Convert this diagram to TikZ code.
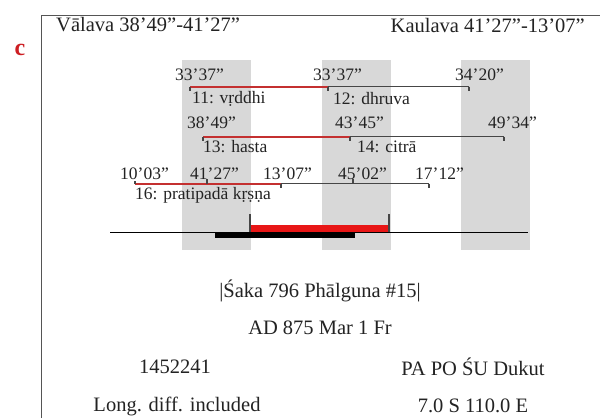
\documentclass[tikz,border=0pt]{standalone}
\usepackage{fontspec}
\setmainfont{Liberation Serif}
\definecolor{txt}{RGB}{35,35,35}
\definecolor{bandgray}{RGB}{216,216,216}
\definecolor{rowred}{RGB}{196,48,48}
\definecolor{rowdark}{RGB}{70,70,70}
\definecolor{barred}{RGB}{232,22,22}
\definecolor{framegray}{RGB}{85,85,85}
\definecolor{clabel}{RGB}{205,30,35}
\begin{document}
\begin{tikzpicture}[x=1pt,y=-1pt,
  lbl/.style={inner sep=0, anchor=west, text=txt, font=\fontsize{17.5}{17.5}\selectfont},
  big/.style={inner sep=0, text=txt, font=\fontsize{20.5}{20.5}\selectfont},
  band/.style={fill=bandgray, draw=none},
  redbar/.style={draw=rowred, line width=2pt},
  darkbar/.style={draw=rowdark, line width=1.5pt},
  tickline/.style={draw=rowdark, line width=1.2pt}]
\useasboundingbox (0,0) rectangle (600,418);
\fill[white] (0,0) rectangle (600,418);
% frame
\draw[framegray, line width=1.5pt] (41.5,418) -- (41.5,15.5) -- (600,15.5);
\node[text=clabel, font=\fontsize{24}{24}\selectfont\bfseries, inner sep=0] (c) at (20,50) {c};
% bands
\fill[band] (182,60) rectangle (251,250);
\fill[band] (322,60) rectangle (391,250);
\fill[band] (461,60) rectangle (530,250);
% top labels
\node[big, anchor=west] (val) at (56,25) {Vālava 38’49”-41’27”};
\node[big, anchor=east] (kau) at (585,25) {Kaulava 41’27”-13’07”};
% row 1
\coordinate (a1) at (190,86.5); \coordinate (a2) at (328,86.5); \coordinate (a3) at (469,86.5);
\draw[darkbar] (a2) -- (a3);
\draw[redbar] (a1) -- (a2);
\draw[tickline] (a1) -- ++(0,4); \draw[tickline] (a2) -- ++(0,4); \draw[tickline] (a3) -- ++(0,4);
\node[lbl] (n1) at (175,75) {33’37”};
\node[lbl] (n2) at (313,75) {33’37”};
\node[lbl] (n3) at (455,75) {34’20”};
\node[lbl] (t11) at (192,99) {11: vṛddhi};
\node[lbl] (t12) at (333,99) {12: dhruva};
% row 2
\coordinate (b1) at (203,136.5); \coordinate (b2) at (350,136.5); \coordinate (b3) at (504,136.5);
\draw[darkbar] (b2) -- (b3);
\draw[redbar] (b1) -- (b2);
\draw[tickline] (b1) -- ++(0,4); \draw[tickline] (b2) -- ++(0,4); \draw[tickline] (b3) -- ++(0,4);
\node[lbl] (m1) at (187,123) {38’49”};
\node[lbl] (m2) at (335,123) {43’45”};
\node[lbl] (m3) at (488,123) {49’34”};
\node[lbl] (t13) at (203,147) {13: hasta};
\node[lbl] (t14) at (357,147) {14: citrā};
% row 3
\coordinate (c1) at (135,183.5); \coordinate (c2) at (207,183.5); \coordinate (c3) at (281,183.5);
\coordinate (c4) at (353,183.5); \coordinate (c5) at (429,183.5);
\draw[darkbar] (c2) -- (c5);
\draw[redbar] (c1) -- (c3);
\draw[tickline] (c1) -- ++(0,-3); \draw[tickline] (c2) -- ++(0,-5);
\draw[tickline] (c3) -- ++(0,4); \draw[tickline] (c4) -- ++(0,-5);
\draw[tickline] (c5) -- ++(0,4);
\node[lbl] (k1) at (120,174) {10’03”};
\node[lbl] (k2) at (190,174) {41’27”};
\node[lbl] (k3) at (263,174) {13’07”};
\node[lbl] (k4) at (338,174) {45’02”};
\node[lbl] (k5) at (415,174) {17’12”};
\node[lbl] (t16) at (135,195) {16: pratipadā kṛṣṇa};
% base line and bars
\coordinate (L) at (110,232.5); \coordinate (R) at (528,232.5);
\draw[black, line width=1.6pt] (L) -- (R);
\fill[barred] (250,225) rectangle (389,232);
\fill[black] (215,232) rectangle (355,237.5);
\coordinate (s1) at (250,214); \coordinate (s2) at (389,214);
\draw[tickline] (s1) -- (250,232);
\draw[tickline] (s2) -- (389,232);
% bottom texts
\node[big] (saka) at (320,291) {|Śaka 796 Phālguna \#15|};
\node[big] (ad) at (320,328) {AD 875 Mar 1 Fr};
\node[big] (jd) at (175,367) {1452241};
\node[big] (pa) at (473,367) {PA PO ŚU Dukut};
\node[big] (long) at (177,406) {Long. diff. included};
\node[big] (loc) at (473,406) {7.0 S 110.0 E};
\end{tikzpicture}
\end{document}
